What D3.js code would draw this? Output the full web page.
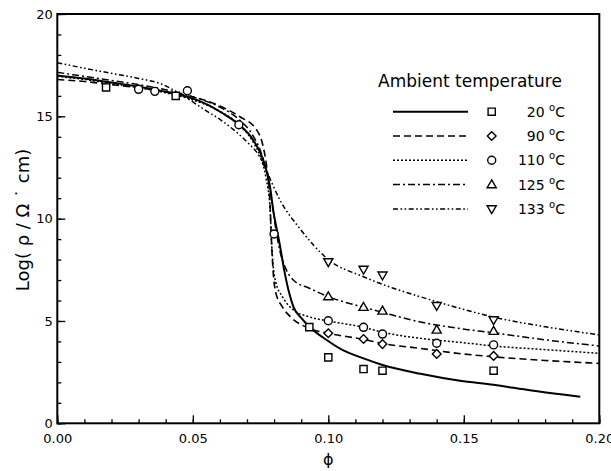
<!DOCTYPE html>
<html>
<head>
<meta charset="utf-8">
<script src="https://cdn.jsdelivr.net/npm/d3@7"></script>
<style>
    body { margin: 0; background: #fff; }
    text { font-family: "DejaVu Sans", sans-serif; fill: #000; }
</style>
</head>
<body>
<div id="chart"></div>
<script>
// fitted curves, [phi, log rho]
const curve20 = [[0, 17.0], [0.01, 16.85], [0.02, 16.65], [0.03, 16.45], [0.04, 16.2], [0.048, 15.95], [0.055, 15.6], [0.061, 15.15], [0.067, 14.6], [0.072, 13.9], [0.076, 12.86], [0.0785, 11.56], [0.0797, 10.4], [0.082, 8.8], [0.084, 7.3], [0.0855, 6.4], [0.0871, 5.7], [0.09, 5.15], [0.093, 4.72], [0.0994, 4.07], [0.105, 3.6], [0.113, 3.17], [0.12, 2.85], [0.134, 2.42], [0.1486, 2.08], [0.161, 1.88], [0.175, 1.6], [0.193, 1.3]];
const curve90 = [[0, 16.8], [0.01, 16.7], [0.02, 16.55], [0.03, 16.4], [0.04, 16.2], [0.05, 15.95], [0.06, 15.5], [0.0674, 14.98], [0.0736, 14.33], [0.076, 13.5], [0.0773, 12.5], [0.0785, 10.75], [0.079, 9.0], [0.0796, 7.5], [0.0806, 6.4], [0.083, 5.7], [0.086, 5.21], [0.093, 4.64], [0.1, 4.4], [0.113, 4.1], [0.12, 3.9], [0.134, 3.66], [0.149, 3.4], [0.161, 3.25], [0.18, 3.07], [0.2, 2.93]];
const curve110 = [[0, 16.95], [0.01, 16.8], [0.02, 16.6], [0.03, 16.4], [0.04, 16.15], [0.05, 15.8], [0.06, 15.25], [0.067, 14.6], [0.072, 13.8], [0.075, 13.0], [0.077, 12.0], [0.0785, 10.5], [0.079, 9.0], [0.0796, 7.8], [0.0806, 6.9], [0.083, 6.2], [0.087, 5.55], [0.093, 5.2], [0.1, 5.0], [0.113, 4.69], [0.12, 4.45], [0.134, 4.15], [0.149, 3.95], [0.161, 3.78], [0.18, 3.6], [0.2, 3.42]];
const curve125 = [[0, 17.15], [0.01, 16.95], [0.02, 16.75], [0.03, 16.55], [0.04, 16.3], [0.05, 15.95], [0.06, 15.45], [0.067, 14.85], [0.072, 14.1], [0.075, 13.3], [0.077, 12.4], [0.079, 11.0], [0.0805, 9.6], [0.082, 8.5], [0.0845, 7.5], [0.0871, 7.0], [0.093, 6.6], [0.1, 6.19], [0.113, 5.67], [0.12, 5.42], [0.134, 4.95], [0.149, 4.62], [0.161, 4.42], [0.18, 4.08], [0.2, 3.78]];
const curve133 = [[0, 17.62], [0.01, 17.35], [0.02, 17.1], [0.03, 16.85], [0.038, 16.6], [0.046, 16.05], [0.054, 15.35], [0.06, 14.85], [0.065, 14.35], [0.07, 13.75], [0.0748, 13.0], [0.0773, 12.3], [0.0822, 10.9], [0.0896, 9.5], [0.1, 8.0], [0.113, 7.16], [0.124, 6.6], [0.134, 6.18], [0.149, 5.6], [0.161, 5.19], [0.18, 4.72], [0.2, 4.32]];

// measured points
const pts20 = [[0.018, 16.41], [0.0437, 16.0], [0.093, 4.70], [0.100, 3.22], [0.113, 2.65], [0.120, 2.57], [0.161, 2.57]];
const pts90 = [[0.100, 4.40], [0.113, 4.12], [0.120, 3.87], [0.140, 3.39], [0.161, 3.29]];
const pts110 = [[0.030, 16.32], [0.036, 16.22], [0.048, 16.25], [0.067, 14.59], [0.080, 9.25], [0.100, 5.01], [0.113, 4.69], [0.120, 4.36], [0.140, 3.91], [0.161, 3.83]];
const pts125 = [[0.100, 6.19], [0.113, 5.67], [0.120, 5.49], [0.140, 4.56], [0.161, 4.50]];
const pts133 = [[0.100, 7.89], [0.113, 7.52], [0.120, 7.24], [0.140, 5.75], [0.161, 5.05]];

const temps = ["20", "90", "110", "125", "133"];
const xMajor = [0, 0.05, 0.10, 0.15, 0.20];
const yMajor = [0, 5, 10, 15, 20];

const series = [
    { temp: temps[0], curve: curve20, pts: pts20, marker: "square", dash: null, w: 2 },
    { temp: temps[1], curve: curve90, pts: pts90, marker: "diamond", dash: "7,4", w: 1.6 },
    { temp: temps[2], curve: curve110, pts: pts110, marker: "circle", dash: "2,2", w: 1.5 },
    { temp: temps[3], curve: curve125, pts: pts125, marker: "up", dash: "7,3,2,3", w: 1.5 },
    { temp: temps[4], curve: curve133, pts: pts133, marker: "down", dash: "5,2.5,1.6,2.5,1.6,2.5", w: 1.5 }
];

const margin = { left: 57.3, right: 599.3, top: 14, bottom: 423.3 };

const svg = d3.select("#chart")
    .append("svg")
    .attr("width", 611)
    .attr("height", 471);

const x = d3.scaleLinear().domain([0, 0.2]).range([margin.left, margin.right]);
const y = d3.scaleLinear().domain([0, 20]).range([margin.bottom, margin.top]);

// minor ticks
svg.append("g")
    .attr("transform", "translate(0," + margin.bottom + ")")
    .call(d3.axisBottom(x).tickValues(d3.range(0, 21).map(d => d / 100)).tickSize(-4).tickFormat(""))
    .call(g => g.select(".domain").remove());
svg.append("g")
    .attr("transform", "translate(" + margin.left + ",0)")
    .call(d3.axisLeft(y).tickValues(d3.range(0, 21)).tickSize(-4).tickFormat(""))
    .call(g => g.select(".domain").remove());

// major ticks + labels
svg.append("g")
    .attr("transform", "translate(0," + margin.bottom + ")")
    .call(d3.axisBottom(x).tickValues(xMajor).tickSize(-8).tickPadding(10).tickFormat(d3.format(".2f")))
    .call(g => g.select(".domain").remove())
    .selectAll("text").style("font-size", "13px").style("font-family", "DejaVu Sans");
svg.append("g")
    .attr("transform", "translate(" + margin.left + ",0)")
    .call(d3.axisLeft(y).tickValues(yMajor).tickSize(-8).tickPadding(4.5).tickFormat(d3.format("d")))
    .call(g => g.select(".domain").remove())
    .selectAll("text").style("font-size", "13px").style("font-family", "DejaVu Sans");

svg.selectAll(".tick line").attr("stroke", "#000").attr("stroke-width", 1.3);

// frame
svg.append("rect")
    .attr("x", margin.left).attr("y", margin.top)
    .attr("width", margin.right - margin.left).attr("height", margin.bottom - margin.top)
    .attr("fill", "none").attr("stroke", "#000").attr("stroke-width", 2);

// axis titles
svg.append("text")
    .attr("x", (margin.left + margin.right) / 2).attr("y", 465)
    .attr("text-anchor", "middle")
    .style("font-size", "16px")
    .text("ϕ");
svg.append("text")
    .attr("transform", "translate(29,220) rotate(-90)")
    .attr("text-anchor", "middle")
    .style("font-size", "18px")
    .text("Log( ρ / Ω ˙ cm)");

// curves
const line = d3.line()
    .x(d => x(d[0]))
    .y(d => y(d[1]))
    .curve(d3.curveMonotoneX);

series.forEach(s => {
    svg.append("path")
        .datum(s.curve)
        .attr("d", line)
        .attr("fill", "none")
        .attr("stroke", "#000")
        .attr("stroke-width", s.w)
        .attr("stroke-dasharray", s.dash);
});

function drawMarker(g, type, cx, cy) {
    let m;
    if (type == "circle") {
        m = g.append("circle").attr("cx", cx).attr("cy", cy).attr("r", 4);
    } else if (type == "square") {
        m = g.append("path").attr("d", d3.symbol(d3.symbolSquare, 52)())
            .attr("transform", "translate(" + cx + "," + cy + ")");
    } else if (type == "diamond") {
        m = g.append("path").attr("d", d3.symbol(d3.symbolSquare, 38)())
            .attr("transform", "translate(" + cx + "," + cy + ") rotate(45)");
    } else if (type == "up") {
        m = g.append("path").attr("d", d3.symbol(d3.symbolTriangle, 36)())
            .attr("transform", "translate(" + cx + "," + (cy + 0.5) + ")");
    } else {
        m = g.append("path").attr("d", d3.symbol(d3.symbolTriangle, 36)())
            .attr("transform", "translate(" + cx + "," + (cy - 0.5) + ") rotate(180)");
    }
    m.attr("fill", "#fff").attr("stroke", "#000").attr("stroke-width", 1.4);
}

// markers
const markG = svg.append("g");
series.forEach(s => {
    s.pts.forEach(p => drawMarker(markG, s.marker, x(p[0]), y(p[1])));
});

// legend
const legend = svg.append("g");
legend.append("text")
    .attr("x", 378).attr("y", 87)
    .style("font-size", "17px")
    .text("Ambient temperature");

series.forEach((s, i) => {
    const ly = 111.7 + i * 24.3;
    legend.append("line")
        .attr("x1", 393).attr("x2", 468)
        .attr("y1", ly).attr("y2", ly)
        .attr("stroke", "#000")
        .attr("stroke-width", s.w)
        .attr("stroke-dasharray", s.dash);
    drawMarker(legend, s.marker, 491.7, ly);
    const t = legend.append("text")
        .attr("x", 565).attr("y", ly + 5)
        .attr("text-anchor", "end")
        .style("font-size", "14px");
    t.append("tspan").text(s.temp + " ");
    t.append("tspan").attr("dy", -6).style("font-size", "10px").text("o");
    t.append("tspan").attr("dy", 6).text("C");
});
</script>
</body>
</html>
